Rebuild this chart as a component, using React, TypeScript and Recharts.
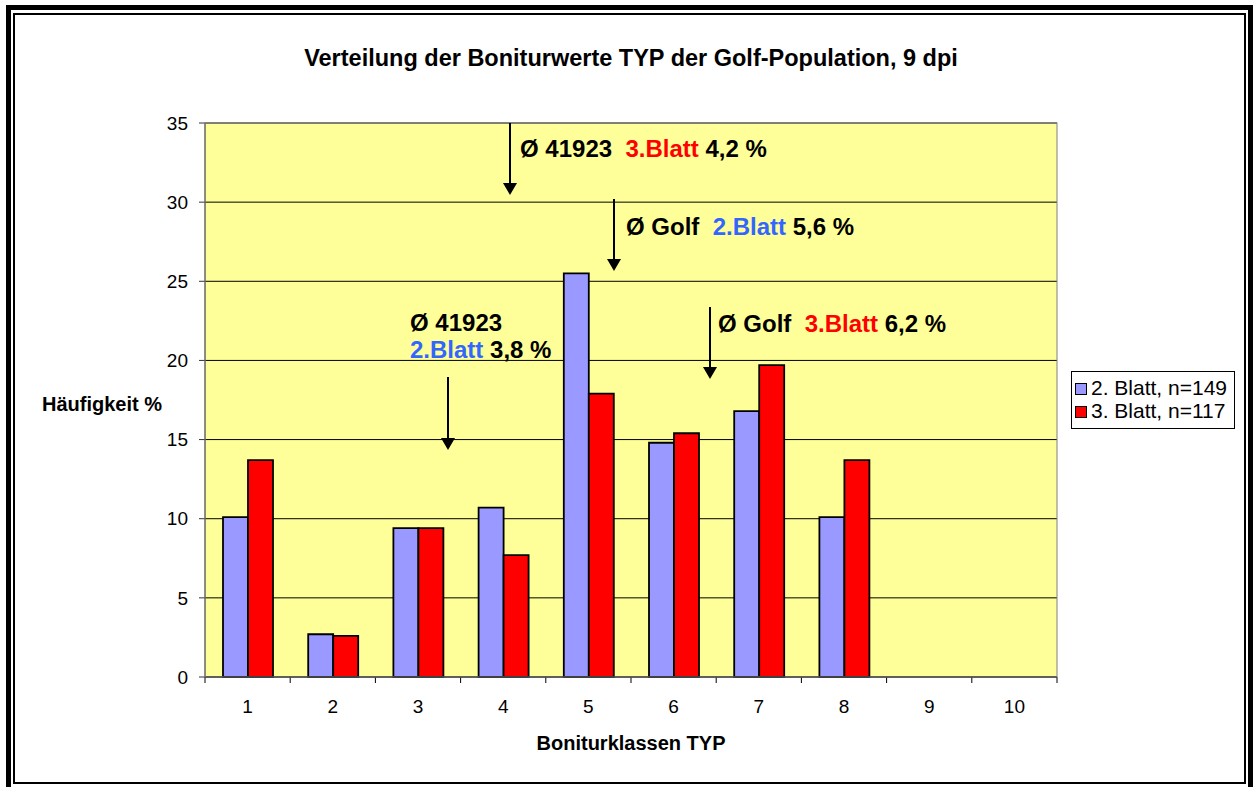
import React from 'react';
import { BarChart, Bar, XAxis, YAxis, CartesianGrid, Legend } from 'recharts';

const categories = ['1', '2', '3', '4', '5', '6', '7', '8', '9', '10'];
const blatt2 = [10.1, 2.7, 9.4, 10.7, 25.5, 14.8, 16.8, 10.1, 0, 0];
const blatt3 = [13.7, 2.6, 9.4, 7.7, 17.9, 15.4, 19.7, 13.7, 0, 0];
const yTicks = [0, 5, 10, 15, 20, 25, 30, 35];
const seriesNames = ['2. Blatt, n=149', '3. Blatt, n=117'];
const seriesColors = ['#9999FF', '#FF0000'];

const data = categories.map((c, i) => ({ cat: c, b2: blatt2[i], b3: blatt3[i] }));

const FONT = '"Liberation Sans", Arial, sans-serif';

const W = 1254;
const H = 787;
const M = { top: 123, right: 197, bottom: 70, left: 145 };
const YW = 60;
const XH = 40;
const PX = M.left + YW;
const PY = M.top;
const PW = W - M.right - PX;
const PH = H - M.bottom - XH - PY;

const TICK_SIZE = 6;
const TICK_MARGIN = 17;
const ANN = 24;

const XTick = (props: any) => {
  const { x, y, payload, index, visibleTicksCount } = props;
  const off = payload && typeof payload.offset === 'number' ? payload.offset : 0;
  const ay = y - TICK_MARGIN - TICK_SIZE;
  const last = index === (visibleTicksCount ?? categories.length) - 1;
  return (
    <g>
      <line x1={x - off} x2={x - off} y1={ay} y2={ay + TICK_SIZE} stroke="#000" strokeWidth={1} />
      {last && <line x1={x + off} x2={x + off} y1={ay} y2={ay + TICK_SIZE} stroke="#000" strokeWidth={1} />}
      <text x={x} y={y} dy="0.71em" textAnchor="middle" fill="#000" fontSize={19} fontFamily={FONT}>
        {payload.value}
      </text>
    </g>
  );
};

const LegendBox = (props: any) => {
  const payload = props.payload || [];
  return (
    <div
      style={{
        width: 164,
        height: 58,
        boxSizing: 'border-box',
        border: '1px solid #000',
        background: '#fff',
        position: 'relative',
        fontFamily: FONT,
      }}
    >
      {payload.map((e: any, i: number) => (
        <div key={i}>
          <div
            style={{
              position: 'absolute',
              left: 3,
              top: 11 + i * 23,
              width: 12,
              height: 12,
              boxSizing: 'border-box',
              border: '1px solid #000',
              background: e.color,
            }}
          />
          <div
            style={{
              position: 'absolute',
              left: 19,
              top: 4 + i * 23,
              fontSize: 21,
              lineHeight: '23px',
              color: '#000',
              whiteSpace: 'nowrap',
            }}
          >
            {e.value}
          </div>
        </div>
      ))}
    </div>
  );
};

const Arrow = ({ x, y1, y2 }: { x: number; y1: number; y2: number }) => (
  <g>
    <line x1={x} x2={x} y1={y1} y2={y2 - 11} stroke="#000" strokeWidth={2} />
    <polygon points={`${x - 7},${y2 - 12} ${x + 7},${y2 - 12} ${x},${y2}`} fill="#000" />
  </g>
);

const BLUE = '#3366FF';
const RED = '#FF0000';

export default function App() {
  return (
    <div style={{ position: 'absolute', left: 0, top: 0, width: W, height: H, overflow: 'hidden', background: '#fff' }}>
      <div
        style={{
          position: 'absolute',
          left: 6,
          top: 5,
          width: 1247,
          height: 790,
          boxSizing: 'border-box',
          border: '5px solid #000',
        }}
      />
      <div
        style={{
          position: 'absolute',
          left: 13,
          top: 13,
          width: 1233,
          height: 771,
          boxSizing: 'border-box',
          border: '2px solid #000',
        }}
      />
      <div style={{ position: 'absolute', left: 0, top: 0 }}>
        <BarChart
          width={W}
          height={H}
          data={data}
          margin={M}
          barCategoryGap={18}
          barGap={0}
        >
          <CartesianGrid vertical={false} horizontal stroke="#000" fill="#FFFF99" fillOpacity={1} />
          <XAxis
            dataKey="cat"
            height={XH}
            stroke="#000"
            tickLine={false}
            tickSize={TICK_SIZE}
            tickMargin={TICK_MARGIN}
            interval={0}
            tick={<XTick />}
          />
          <YAxis
            width={YW}
            domain={[0, 35]}
            ticks={yTicks}
            interval={0}
            stroke="#333"
            tickSize={TICK_SIZE}
            tickMargin={11}
            tick={{ fill: '#000', fontSize: 19, fontFamily: FONT }}
          />
          <Legend
            layout="horizontal"
            verticalAlign="middle"
            align="center"
            wrapperStyle={{ left: 1071, top: 371, width: 164, height: 58 }}
            content={<LegendBox />}
          />
          <Bar dataKey="b2" name={seriesNames[0]} fill={seriesColors[0]} stroke="#000" strokeWidth={1.8} isAnimationActive={false} />
          <Bar dataKey="b3" name={seriesNames[1]} fill={seriesColors[1]} stroke="#000" strokeWidth={1.8} isAnimationActive={false} />
        </BarChart>
      </div>
      <svg
        width={W}
        height={H}
        style={{ position: 'absolute', left: 0, top: 0, pointerEvents: 'none' }}
        fontFamily={FONT}
      >
        <rect x={PX} y={PY} width={PW} height={PH} fill="none" stroke="#808080" strokeWidth={1} />
        <text x={631} y={66} textAnchor="middle" fontWeight="bold" fontSize={23.5} fill="#000">
          Verteilung der Boniturwerte TYP der Golf-Population, 9 dpi
        </text>
        <text x={42} y={411} fontWeight="bold" fontSize={20} fill="#000">
          Häufigkeit %
        </text>
        <text x={631} y={750} textAnchor="middle" fontWeight="bold" fontSize={20} fill="#000">
          Boniturklassen TYP
        </text>

        <Arrow x={510} y1={PY} y2={195} />
        <text x={520} y={157} fontWeight="bold" fontSize={ANN} style={{ whiteSpace: 'pre' }}>
          <tspan fill="#000">Ø 41923  </tspan>
          <tspan fill={RED}>3.Blatt</tspan>
          <tspan fill="#000"> 4,2 %</tspan>
        </text>

        <Arrow x={614} y1={199} y2={271} />
        <text x={626} y={235} fontWeight="bold" fontSize={ANN} style={{ whiteSpace: 'pre' }}>
          <tspan fill="#000">Ø Golf  </tspan>
          <tspan fill={BLUE}>2.Blatt</tspan>
          <tspan fill="#000"> 5,6 %</tspan>
        </text>

        <text x={410} y={331} fontWeight="bold" fontSize={ANN} fill="#000" style={{ whiteSpace: 'pre' }}>
          Ø 41923
        </text>
        <text x={410} y={358} fontWeight="bold" fontSize={ANN} style={{ whiteSpace: 'pre' }}>
          <tspan fill={BLUE}>2.Blatt</tspan>
          <tspan fill="#000"> 3,8 %</tspan>
        </text>
        <Arrow x={448} y1={377} y2={450} />

        <Arrow x={710} y1={307} y2={379} />
        <text x={718} y={332} fontWeight="bold" fontSize={ANN} style={{ whiteSpace: 'pre' }}>
          <tspan fill="#000">Ø Golf  </tspan>
          <tspan fill={RED}>3.Blatt</tspan>
          <tspan fill="#000"> 6,2 %</tspan>
        </text>
      </svg>
    </div>
  );
}
